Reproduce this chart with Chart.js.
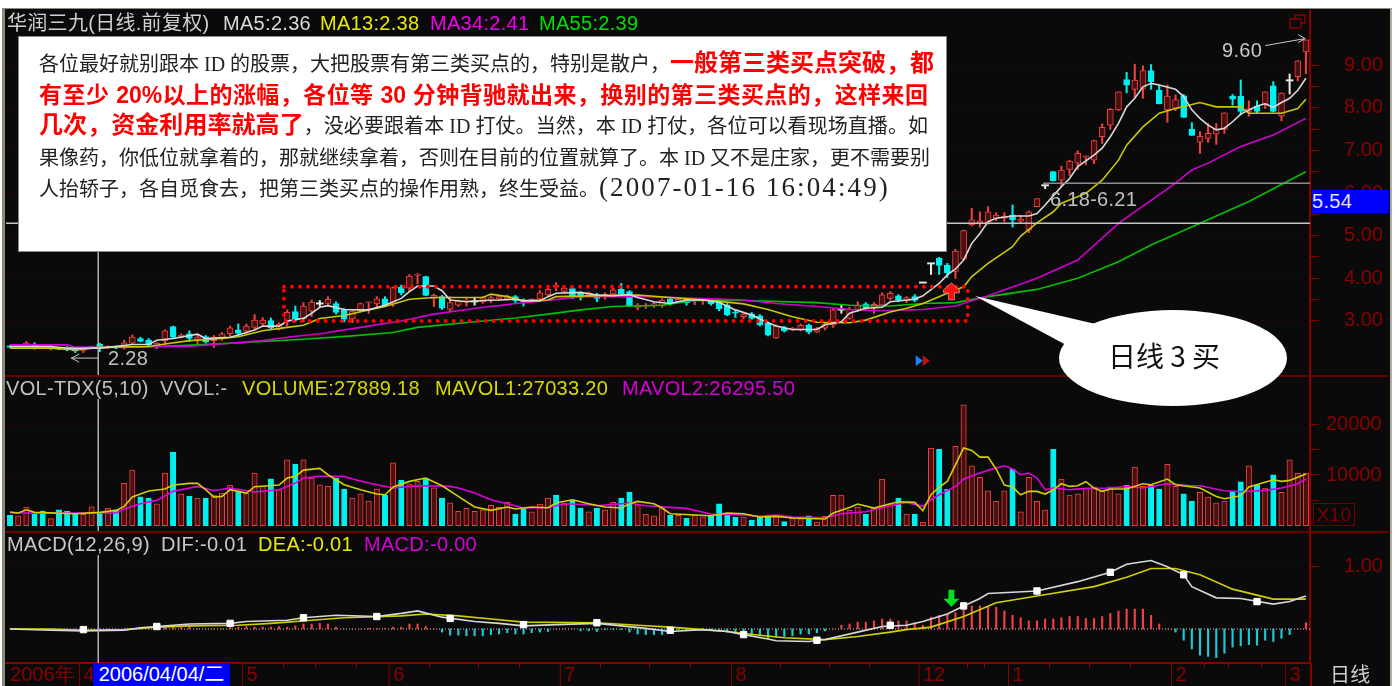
<!DOCTYPE html>
<html>
<head>
<meta charset="utf-8">
<script src="https://cdn.jsdelivr.net/npm/chart.js@4"></script>
<style>
html,body{margin:0;padding:0;background:#fff;overflow:hidden}
#frame{position:absolute;left:2px;top:8px;width:1385px;height:678px;background:#0a0a0a;border-left:3px solid #8c8a7c;border-right:2px solid #b0aea0;border-top:1px solid #8c8a7c;box-sizing:content-box}
canvas{position:absolute;left:5px}
.t{position:absolute;font:20px "Liberation Sans","Noto Sans CJK SC",sans-serif;letter-spacing:.3px;white-space:nowrap;line-height:22px}
.rule{position:absolute;background:#6a0000}
#note{position:absolute;left:19px;top:37px;width:927px;height:214px;background:#fff;box-shadow:0 0 0 1px #888}
#note div{position:absolute;left:20px;width:889px;font:20px/30px "Liberation Serif","Noto Sans CJK SC",sans-serif;color:#222;white-space:nowrap;text-align-last:justify}
#note b{font-family:"Liberation Sans","Noto Sans CJK SC",sans-serif;color:#f00;font-size:23px}
#note b.w{font-size:24px}
#note .big{font:27px "Liberation Serif",serif;letter-spacing:2.1px;color:#222}
svg{position:absolute;left:0;top:0}
.pane{position:absolute;border:2px solid #6a0000;box-sizing:border-box}
</style>
</head>
<body>
<div id="frame"></div>
<canvas id="kline" width="1384" height="366" style="top:10px"></canvas>
<canvas id="vol" width="1384" height="156" style="top:376px"></canvas>
<canvas id="macd" width="1384" height="154" style="top:532px"></canvas>

<div class="rule" style="left:5px;top:375px;width:1384px;height:2px"></div>
<div class="rule" style="left:5px;top:531px;width:1384px;height:2px"></div>
<div class="rule" style="left:1310px;top:663px;width:2px;height:23px;background:#8b0000"></div>
<div class="pane" style="left:1294px;top:14px;width:12px;height:10px"></div>
<div class="pane" style="left:1289px;top:18px;width:13px;height:11px;background:#0a0a0a"></div>

<span class="t" style="left:7px;top:12px;color:#d0d0d0">华润三九(日线.前复权)</span>
<span class="t" style="left:223px;top:12px;color:#d8d8d8">MA5:2.36</span>
<span class="t" style="left:320px;top:12px;color:#e8e800">MA13:2.38</span>
<span class="t" style="left:430px;top:12px;color:#f000f0">MA34:2.41</span>
<span class="t" style="left:539px;top:12px;color:#00e000">MA55:2.39</span>

<span class="t" style="left:6px;top:377px;color:#c0c0c0">VOL-TDX(5,10)</span>
<span class="t" style="left:160px;top:377px;color:#c0c0c0">VVOL:-</span>
<span class="t" style="left:242px;top:377px;color:#d8d800">VOLUME:27889.18</span>
<span class="t" style="left:435px;top:377px;color:#d8d800">MAVOL1:27033.20</span>
<span class="t" style="left:622px;top:377px;color:#d800d8">MAVOL2:26295.50</span>

<span class="t" style="left:7px;top:533px;color:#c8c8c8">MACD(12,26,9)</span>
<span class="t" style="left:161px;top:533px;color:#c8c8c8">DIF:-0.01</span>
<span class="t" style="left:258px;top:533px;color:#e8e800">DEA:-0.01</span>
<span class="t" style="left:364px;top:533px;color:#d800d8">MACD:-0.00</span>

<span class="t" style="left:108px;top:347px;color:#c0c0c0">2.28</span>
<span class="t" style="left:1222px;top:39px;color:#c8c8c8">9.60</span>
<span class="t" style="left:1050px;top:188px;color:#c0c0c0">6.18-6.21</span>

<span class="t" style="left:1312px;top:190px;width:77px;height:23px;background:#0000ff;color:#e0e0ff;line-height:22px">5.54</span>
<span class="t" style="left:1313px;top:503px;width:40px;height:21px;border:1px solid #6a0000;color:#7a0000;line-height:21px;text-align:center;font-size:19px">X10</span>
<span class="t" style="left:93px;top:663px;width:137px;height:23px;background:#0000ff;color:#fff;text-align:center;line-height:23px;letter-spacing:0">2006/04/04/二</span>
<span class="t" style="left:1330px;top:664px;color:#d0d0d0">日线</span>

<div id="note">
<div style="top:11px">各位最好就别跟本 ID 的股票，大把股票有第三类买点的，特别是散户，<b class="w">一般第三类买点突破，都</b></div>
<div style="top:43px"><b>有至少 20%以上的涨幅，各位等 30 分钟背驰就出来，换别的第三类买点的，这样来回</b></div>
<div style="top:73px"><b class="w">几次，资金利用率就高了</b>，没必要跟着本 ID 打仗。当然，本 ID 打仗，各位可以看现场直播。如</div>
<div style="top:106px">果像药，你低位就拿着的，那就继续拿着，否则在目前的位置就算了。本 ID 又不是庄家，更不需要别</div>
<div style="top:135px;text-align-last:left">人抬轿子，各自觅食去，把第三类买点的操作用熟，终生受益。<span class="big">(2007-01-16 16:04:49)</span></div>
</div>

<svg width="1395" height="686">
  <path d="M975 296 L1100 325 L1068 346 Z" fill="#fff"/>
  <ellipse cx="1173" cy="358" rx="114" ry="48" fill="#fff"/>
  <text x="1164" y="367" text-anchor="middle" font-family="Noto Sans CJK SC" font-size="28" fill="#111">日线 3 买</text>
</svg>

<script>
const N = 160;
const labels = Array.from({length: N}, (_, i) => i);

const openP = [
2.42,2.38,2.40,2.45,2.41,2.37,2.37,2.37,2.35,2.31,
2.37,2.46,2.37,2.40,2.36,2.48,2.59,2.55,2.42,2.54,
2.87,2.62,2.70,2.57,2.63,2.54,2.61,2.70,2.79,2.76,
2.85,2.93,3.01,2.81,2.99,3.22,3.05,3.23,3.41,3.41,
3.41,3.26,3.05,3.24,3.43,3.40,3.52,3.40,3.79,3.77,
4.07,4.04,3.53,3.57,3.27,3.37,3.45,3.46,3.45,3.48,
3.51,3.51,3.57,3.49,3.45,3.51,3.61,3.79,3.69,3.76,
3.65,3.61,3.62,3.57,3.63,3.74,3.69,3.32,3.34,3.37,
3.35,3.52,3.45,3.51,3.48,3.48,3.46,3.45,3.37,3.21,
3.10,3.16,3.12,2.95,2.60,2.84,2.80,2.79,2.90,2.74,
2.83,2.91,3.27,3.06,3.27,3.40,3.30,3.37,3.53,3.59,
3.48,3.57,3.90,4.35,4.47,4.31,4.16,4.45,5.25,5.29,
5.29,5.41,5.41,5.48,5.34,5.13,5.68,6.18,6.50,6.30,
6.55,6.70,6.84,6.77,7.32,7.59,7.95,8.66,8.43,8.45,
8.87,8.41,7.95,7.98,8.28,7.49,7.19,7.28,7.38,7.49,
8.27,8.27,7.91,8.04,8.09,8.51,7.80,8.64,8.73,9.31];
const closeP = [
2.38,2.41,2.48,2.38,2.37,2.40,2.34,2.34,2.30,2.34,
2.40,2.38,2.41,2.36,2.49,2.62,2.52,2.43,2.48,2.77,
2.62,2.67,2.59,2.62,2.51,2.62,2.70,2.84,2.71,2.88,
3.02,3.02,2.84,2.93,3.20,3.04,3.35,3.44,3.41,3.51,
3.20,3.04,3.23,3.41,3.45,3.52,3.37,3.78,3.66,4.05,
4.10,3.60,3.60,3.30,3.43,3.48,3.49,3.46,3.55,3.55,
3.57,3.59,3.48,3.45,3.51,3.66,3.74,3.84,3.77,3.57,
3.55,3.66,3.53,3.62,3.73,3.63,3.35,3.37,3.37,3.41,
3.49,3.43,3.51,3.43,3.51,3.49,3.40,3.29,3.14,3.18,
3.16,3.06,2.91,2.67,2.88,2.77,2.83,2.90,2.74,2.82,
2.92,3.26,3.27,3.27,3.37,3.30,3.39,3.61,3.65,3.49,
3.55,3.49,3.90,4.35,4.30,4.13,4.64,5.12,5.37,5.35,
5.56,5.48,5.46,5.37,5.39,5.56,5.87,6.18,6.29,6.54,
6.75,6.93,6.87,7.23,7.54,7.96,8.37,8.53,8.65,8.87,
8.61,8.09,8.27,8.19,7.77,7.35,7.33,7.40,7.49,7.88,
8.20,7.91,7.98,7.91,8.37,7.91,8.34,8.64,9.10,9.59];
const highP = [
2.43,2.42,2.52,2.49,2.42,2.41,2.38,2.40,2.37,2.35,
2.41,2.48,2.42,2.41,2.55,2.67,2.62,2.59,2.49,2.79,
2.88,2.70,2.77,2.67,2.66,2.66,2.73,2.88,2.93,2.93,
3.15,3.08,3.07,2.96,3.26,3.35,3.43,3.49,3.48,3.57,
3.45,3.29,3.27,3.42,3.45,3.57,3.57,3.80,3.84,4.09,
4.12,4.05,3.63,3.60,3.57,3.49,3.53,3.55,3.57,3.59,
3.60,3.61,3.60,3.52,3.52,3.71,3.79,3.90,3.82,3.79,
3.68,3.68,3.65,3.66,3.77,3.88,3.71,3.41,3.41,3.45,
3.52,3.55,3.52,3.52,3.51,3.49,3.49,3.48,3.41,3.26,
3.20,3.20,3.15,2.98,2.91,2.87,2.85,2.93,2.93,2.85,
2.95,3.29,3.37,3.32,3.45,3.43,3.43,3.66,3.69,3.62,
3.57,3.62,3.90,4.35,4.49,4.35,4.68,5.13,5.64,5.56,
5.68,5.54,5.54,5.72,5.48,5.58,5.87,6.18,6.51,6.63,
6.77,6.99,6.87,7.24,7.62,7.98,8.37,8.83,9.02,8.98,
9.01,8.53,8.53,8.30,8.31,7.65,7.44,7.63,7.63,7.88,
8.31,8.65,8.16,8.16,8.37,8.61,8.35,8.79,9.10,9.59];
const lowP = [
2.37,2.37,2.37,2.34,2.36,2.32,2.33,2.30,2.26,2.26,
2.36,2.28,2.36,2.35,2.34,2.45,2.51,2.40,2.35,2.44,
2.61,2.60,2.52,2.46,2.48,2.38,2.55,2.65,2.65,2.71,
2.81,2.90,2.81,2.79,2.88,2.98,2.98,3.10,3.34,3.34,
3.16,2.98,2.96,3.23,3.18,3.32,3.34,3.34,3.61,3.71,
3.87,3.59,3.34,3.27,3.24,3.34,3.35,3.37,3.41,3.43,
3.49,3.49,3.43,3.35,3.44,3.49,3.57,3.71,3.66,3.52,
3.49,3.59,3.45,3.51,3.61,3.60,3.34,3.26,3.29,3.32,
3.32,3.37,3.43,3.37,3.38,3.39,3.37,3.24,3.12,3.08,
3.05,3.04,2.88,2.65,2.59,2.74,2.77,2.77,2.70,2.73,
2.79,2.85,3.18,3.04,3.22,3.27,3.18,3.35,3.49,3.45,
3.43,3.45,3.90,4.09,4.09,4.02,4.00,4.43,5.23,5.20,
5.27,5.35,5.33,5.20,5.29,5.07,5.68,6.10,6.28,6.18,
6.41,6.55,6.66,6.69,7.16,7.49,7.93,8.35,8.22,8.22,
8.43,8.09,7.66,7.93,7.77,7.35,6.93,7.19,7.14,7.40,
8.06,7.83,7.80,7.88,7.98,7.90,7.69,8.32,8.63,8.80];

// moving averages: [bar, value]
const ma5Pts = [[0,2.40],[5,2.40],[7,2.36],[11,2.36],[12,2.38],[15,2.45],[17,2.45],[18,2.55],[20,2.59],[23,2.69],[24,2.59],[27,2.62],[28,2.67],[30,2.79],[31,2.88],[33,2.88],[34,3.00],[36,3.06],[37,3.18],[38,3.32],[39,3.36],[41,3.27],[43,3.26],[44,3.26],[46,3.37],[48,3.53],[49,3.69],[50,3.82],[52,3.82],[53,3.71],[54,3.49],[56,3.45],[58,3.48],[60,3.49],[62,3.51],[63,3.47],[65,3.47],[66,3.57],[67,3.65],[70,3.67],[72,3.61],[74,3.59],[76,3.62],[77,3.55],[79,3.45],[81,3.41],[83,3.49],[85,3.49],[87,3.44],[89,3.26],[91,3.14],[93,2.96],[94,2.88],[96,2.80],[99,2.80],[100,2.91],[102,2.98],[103,3.18],[105,3.30],[107,3.32],[108,3.45],[111,3.51],[112,3.59],[114,3.88],[115,4.08],[116,4.22],[117,4.43],[118,4.82],[119,5.05],[120,5.33],[121,5.41],[123,5.46],[125,5.46],[126,5.52],[127,5.72],[129,6.15],[130,6.34],[131,6.62],[133,6.89],[134,7.05],[135,7.32],[136,7.63],[137,8.02],[138,8.22],[139,8.49],[140,8.57],[141,8.53],[143,8.43],[144,8.26],[145,7.95],[146,7.75],[147,7.59],[148,7.48],[149,7.52],[150,7.67],[151,7.85],[153,8.04],[154,8.09],[155,8.01],[156,8.12],[157,8.22],[158,8.41],[159,8.69]];
const ma13Pts = [[0,2.36],[5,2.36],[8,2.32],[11,2.38],[17,2.40],[19,2.46],[22,2.54],[25,2.57],[28,2.63],[31,2.77],[34,2.85],[36,2.90],[38,3.06],[41,3.13],[44,3.26],[46,3.34],[49,3.51],[52,3.55],[58,3.55],[59,3.63],[61,3.57],[63,3.48],[66,3.49],[67,3.57],[74,3.60],[77,3.61],[81,3.55],[86,3.48],[90,3.40],[93,3.27],[96,3.10],[99,2.97],[103,2.96],[105,3.02],[108,3.21],[110,3.30],[112,3.41],[115,3.65],[117,3.80],[118,4.04],[120,4.35],[123,4.74],[124,4.99],[126,5.30],[128,5.56],[129,5.76],[132,5.99],[134,6.30],[136,6.77],[137,7.12],[139,7.55],[141,7.87],[143,7.98],[146,8.12],[148,8.02],[151,8.02],[152,7.87],[156,7.87],[158,7.98],[159,8.20]];
const ma34Pts = [[0,2.44],[7,2.44],[8,2.38],[11,2.38],[19,2.40],[22,2.40],[31,2.54],[34,2.62],[38,2.70],[43,2.85],[48,3.00],[52,3.16],[58,3.32],[60,3.36],[62,3.41],[66,3.48],[70,3.57],[78,3.57],[84,3.53],[90,3.49],[94,3.41],[99,3.34],[103,3.27],[107,3.24],[112,3.27],[116,3.35],[120,3.59],[126,4.00],[131,4.43],[136,5.29],[143,6.23],[145,6.54],[147,6.70],[151,7.09],[155,7.36],[159,7.75]];
const ma55Pts = [[0,2.36],[11,2.38],[18,2.40],[23,2.44],[31,2.52],[36,2.57],[42,2.65],[47,2.73],[50,2.85],[58,3.00],[62,3.07],[66,3.16],[70,3.26],[74,3.34],[80,3.37],[84,3.48],[90,3.48],[99,3.43],[103,3.37],[108,3.35],[112,3.41],[116,3.43],[120,3.57],[126,3.74],[131,4.00],[136,4.39],[140,4.78],[146,5.29],[152,5.80],[159,6.50]];

const volume = [
2040,1970,3680,2365,2890,1380,3150,2825,2365,2230,
3745,2630,3415,3150,8345,10970,5715,5450,4335,10380,
14520,6300,5780,5450,5450,6100,6440,8000,6900,6440,
10380,7750,9260,7100,13000,12150,13000,9400,8080,7750,
9400,7230,5450,6300,4860,7230,5980,12400,8935,8280,
8740,9400,7490,5450,4530,2825,3415,2825,3150,4000,
3610,4600,2300,3480,2760,4270,5450,6040,4470,4990,
3480,2760,3480,3150,4600,5450,6635,4140,2230,1970,
3480,2040,2040,1445,2040,1770,1970,4335,2500,1710,
1710,1120,1640,1970,1840,790,1445,1380,1970,720,
1840,5980,6040,3020,3680,2230,3480,9200,4335,5450,
2300,2300,720,15300,15045,7160,15640,23850,11825,9530,
6900,4800,6900,11100,2760,9530,4800,3090,15045,9200,
6040,6300,7420,7620,6770,7690,6300,7950,11560,7750,
7950,7230,12090,7750,6300,4860,6570,5650,4530,4860,
6900,8670,11825,7950,7420,10050,6570,13000,10380,10380];
const volDown = [0,3,4,6,7,8,11,13,16,17,20,22,24,28,32,35,40,41,46,48,51,53,62,63,67,69,70,72,75,76,81,83,86,87,88,89,91,92,93,95,98,105,109,111,114,115,123,128,137,140,141,144,145,150,151,153,155];
const mavol1Pts = [[0,2690],[1,2500],[2,3150],[3,2630],[8,2365],[11,2630],[13,3020],[14,3810],[15,5650],[17,6830],[19,7230],[20,8015],[22,8340],[23,8340],[24,7095],[25,5650],[26,5780],[27,7095],[29,6440],[30,7690],[33,8015],[34,9395],[35,9725],[36,10970],[38,11300],[39,10050],[41,8080],[43,7095],[45,6240],[46,6110],[47,7620],[49,8740],[51,9395],[53,7880],[55,5780],[57,3680],[59,3020],[61,3680],[62,3285],[64,3680],[66,3550],[67,4470],[69,5125],[71,4340],[73,3680],[75,3480],[76,4340],[77,4800],[79,4340],[80,3480],[81,2365],[86,1970],[88,2500],[90,2365],[92,1710],[94,1840],[96,1510],[100,1315],[101,2500],[103,3610],[104,4270],[106,3480],[108,4340],[109,4730],[111,4600],[112,2960],[113,6110],[114,7620],[115,8740],[117,15310],[118,14850],[119,13530],[120,13530],[121,11170],[122,8015],[123,7620],[124,6110],[125,6770],[126,6770],[127,6240],[128,7095],[129,8280],[130,7750],[131,7880],[132,8670],[133,7425],[134,6770],[135,7230],[137,7230],[139,8280],[140,8080],[142,9200],[143,8080],[146,7425],[148,5780],[149,5320],[151,5910],[152,7620],[155,9070],[156,8740],[157,8935],[159,10180]];
const mavol2Pts = [[0,2500],[13,2500],[14,3285],[16,4340],[18,4990],[20,6770],[22,7425],[23,7750],[25,6900],[27,7425],[30,6635],[33,7095],[35,8410],[36,9395],[38,9725],[41,9725],[42,9200],[44,8410],[47,7425],[49,7750],[51,7880],[54,7750],[55,7425],[57,6440],[59,5125],[61,4340],[63,3480],[66,3550],[68,4340],[71,4140],[72,3940],[76,4470],[78,3940],[81,3610],[83,3415],[86,2300],[90,2100],[92,1840],[94,2100],[96,1710],[100,1575],[102,2365],[105,2760],[108,3940],[110,4600],[112,3810],[113,5125],[114,6110],[116,7750],[117,9200],[119,10380],[120,10910],[122,11830],[123,11170],[124,10050],[125,10380],[126,9395],[127,7095],[128,7425],[130,7095],[132,7360],[135,7425],[137,7750],[139,7425],[142,8280],[145,7880],[146,7880],[149,6900],[151,6700],[154,6965],[156,7425],[158,8280],[159,9200]];

const difPts = [[0,0],[5,-0.02],[9,-0.03],[14,-0.02],[16,0.02],[18,0.04],[22,0.08],[27,0.09],[29,0.12],[34,0.14],[36,0.18],[40,0.22],[45,0.20],[48,0.25],[50,0.29],[53,0.19],[57,0.12],[60,0.09],[63,0.05],[67,0.07],[72,0.09],[75,0.05],[78,0.01],[81,-0.04],[85,-0.01],[88,-0.04],[90,-0.09],[93,-0.16],[94,-0.19],[98,-0.20],[100,-0.17],[104,-0.05],[107,0.04],[110,0.06],[112,0.12],[115,0.24],[117,0.37],[119,0.49],[120,0.57],[126,0.61],[131,0.76],[135,0.91],[137,1.04],[140,1.10],[142,1.00],[144,0.87],[145,0.68],[148,0.50],[151,0.49],[155,0.40],[157,0.44],[159,0.53]];
const deaPts = [[0,0],[5,0],[9,-0.02],[14,-0.01],[18,0.03],[22,0.05],[28,0.06],[32,0.09],[37,0.14],[41,0.18],[48,0.21],[51,0.24],[55,0.21],[59,0.16],[63,0.11],[72,0.10],[77,0.06],[81,0.03],[85,-0.01],[88,-0.04],[92,-0.10],[95,-0.14],[100,-0.17],[104,-0.12],[108,-0.05],[110,-0.01],[113,0.03],[117,0.20],[121,0.42],[126,0.53],[133,0.68],[137,0.83],[140,0.97],[143,0.97],[146,0.87],[150,0.64],[155,0.48],[159,0.48]];
const difMarkPts = [[9,-0.01],[18,0.04],[27,0.09],[36,0.18],[45,0.20],[54,0.17],[63,0.07],[72,0.10],[81,-0.02],[90,-0.09],[99,-0.18],[108,0.06],[117,0.37],[126,0.61],[135,0.91],[144,0.87],[153,0.44]];
const macdBar = [
0,0,0,0,0,0,0,0,0,0,
0,0,0,0,0,0,0,0,0,0.03,
0.04,0.04,0.04,0,0,0,0,0.03,0.03,0.04,
0.03,0.03,0.03,0.04,0.03,0.05,0.08,0.08,0.09,0.08,
0.03,0,0,0,0.01,0.01,0.01,0.03,0.03,0.08,
0.08,0.04,0,-0.05,-0.10,-0.10,-0.11,-0.11,-0.11,-0.09,
-0.08,-0.06,-0.08,-0.08,-0.06,-0.05,-0.04,0,0,0,
-0.03,-0.03,-0.04,-0.01,-0.01,-0.01,-0.05,-0.08,-0.09,-0.09,
-0.09,-0.04,-0.01,-0.01,-0.01,-0.01,-0.02,-0.03,-0.05,-0.06,
-0.07,-0.09,-0.11,-0.15,-0.13,-0.12,-0.11,-0.08,-0.08,-0.06,
-0.03,0,0.06,0.08,0.11,0.11,0.13,0.16,0.16,0.13,
0.13,0.10,0.06,0.19,0.22,0.24,0.26,0.32,0.37,0.37,
0.35,0.35,0.29,0.22,0.18,0.13,0.13,0.16,0.16,0.18,
0.20,0.20,0.17,0.17,0.20,0.25,0.29,0.32,0.32,0.32,
0.22,0.08,0,-0.05,-0.18,-0.32,-0.42,-0.44,-0.46,-0.39,
-0.29,-0.27,-0.25,-0.26,-0.18,-0.20,-0.15,-0.09,0,0.10];

const priceTicks = [3,3.5,4,4.5,5,5.5,6,6.5,7,7.5,8,8.5,9];
const volTicks = [5000,10000,15000,20000];
const macdTicks = [1];
const monthStart = [0,9,29,47,68,89,112,123,143,157];
const monthLabel = ['2006年','4','5','6','7','8','12','1','2','3'];
const weekTicks = [34,38,43,52,58,63,73,79,84,95,101,106,118,120,128,133,138,147,150,154];
const cursorBar = 11;
const supportLines = [[5.29,-1],[6.23,127]];   // price, first bar

const RED = '#ee4040', HOLLOW = '#4a1010', CYAN = '#00f0f0', AXIS = '#8b0000', DOT = '#7a0000';
const FONT = {family: '"Liberation Sans"', size: 20};

function sparse(pts){
  const a = new Array(N).fill(null);
  pts.forEach(p => { a[p[0]] = p[1]; });
  return a;
}
function maLine(pts, color, label){
  return {type:'line', label, data:sparse(pts), borderColor:color, borderWidth:1.6, pointRadius:0, tension:0, spanGaps:true, order:1};
}
function candleColor(i){
  if (closeP[i] > openP[i]) return RED;
  if (closeP[i] < openP[i]) return CYAN;
  return '#e8e8e8';
}
// the tick padding also pads the scale ends, take that back out so the plot fills its panel
function flush(a){
  a.paddingTop = a.paddingBottom = a.paddingLeft = a.paddingRight = 0;
  a._margins.top = a._margins.bottom = a._margins.left = a._margins.right = 0;
}
function yAxis(min, max, ticks, fmt, pad, strip){
  return {
    position:'right', min, max,
    afterBuildTicks: a => { a.ticks = ticks.map(v => ({value:v})); },
    afterFit: a => { flush(a); a.width = 79; a.height = a._length = a.chart.height - strip; },
    border:{color:AXIS, width:2, dash:[1,7]},
    grid:{
      tickLength:9, tickColor:AXIS,
      color: c => (c.tick && fmt(c.tick.value) !== '') ? DOT : 'transparent',
      lineWidth:1
    },
    ticks:{color:AXIS, font:FONT, padding:pad, autoSkip:false, callback:v => fmt(v)}
  };
}
function xAxisHidden(){
  return {offset:true, display:false, grid:{display:false}};
}
function baseOptions(scales){
  return {
    responsive:false, animation:false, devicePixelRatio:1,
    layout:{autoPadding:false, padding:{left:1, right:0, top:0, bottom:0}},
    plugins:{legend:{display:false}, tooltip:{enabled:false}},
    events:[],
    scales
  };
}
// vertical crosshair, starts under the title row of the panel
function crosshair(skip){
  return {id:'cursor', afterDatasetsDraw(chart){
    const c = chart.ctx, x = chart.scales.x.getPixelForValue(cursorBar) - 1.5, a = chart.chartArea;
    c.save(); c.strokeStyle = '#b0b0b0'; c.lineWidth = 1.5;
    c.beginPath(); c.moveTo(x, a.top + skip); c.lineTo(x, a.bottom); c.stroke(); c.restore();
  }};
}

const annotate = {id:'annotate', afterDatasetsDraw(chart){
  const c = chart.ctx, X = chart.scales.x, Y = chart.scales.y;
  c.save();
  // support lines
  c.lineWidth = 1.5;
  supportLines.forEach((s, k) => {
    const y = Y.getPixelForValue(s[0]);
    c.strokeStyle = k ? '#8c8c8c' : '#c4c4c4';
    c.beginPath(); c.moveTo(s[1] < 0 ? X.left : X.getPixelForValue(s[1]) - 2, y); c.lineTo(X.right, y); c.stroke();
  });
  // dotted box around the consolidation
  c.strokeStyle = '#ff0000'; c.lineWidth = 4; c.lineCap = 'round'; c.setLineDash([0,8]);
  const l = X.getPixelForValue(33.6), r = X.getPixelForValue(117.5), t = Y.getPixelForValue(3.80), b = Y.getPixelForValue(3.0);
  c.strokeRect(l, t, r - l, b - t);
  c.setLineDash([]); c.lineCap = 'butt';
  // up arrow, buy marker
  const ax = X.getPixelForValue(115.5), ay = Y.getPixelForValue(3.68);
  c.fillStyle = '#ff1010'; c.strokeStyle = '#b08080'; c.lineWidth = 1;
  c.beginPath();
  [[0,-9],[8,-2],[8,1],[3,1],[3,8],[-3,8],[-3,1],[-8,1],[-8,-2]].forEach((p, i) => {
    i ? c.lineTo(ax + p[0], ay + p[1]) : c.moveTo(ax + p[0], ay + p[1]);
  });
  c.closePath(); c.fill(); c.stroke();
  // the two small heads under the price
  const hx = X.getPixelForValue(111), hy = Y.getPixelForValue(2.07);
  c.fillStyle = '#2080ff';
  c.beginPath(); c.moveTo(hx + 1, hy - 5.5); c.lineTo(hx + 8, hy); c.lineTo(hx + 1, hy + 5.5); c.closePath(); c.fill();
  c.fillStyle = '#c01010';
  c.beginPath(); c.moveTo(hx + 8, hy - 5.5); c.lineTo(hx + 15, hy); c.lineTo(hx + 8, hy + 5.5); c.closePath(); c.fill();
  // low / high pointers
  c.strokeStyle = '#c8c8c8'; c.lineWidth = 1;
  const lowY = Y.getPixelForValue(2.13), lowX = X.getPixelForValue(8) ;
  c.beginPath(); c.moveTo(lowX + 23, lowY); c.lineTo(lowX - 4, lowY); c.moveTo(lowX + 4, lowY - 4); c.lineTo(lowX - 4, lowY); c.lineTo(lowX + 4, lowY + 4); c.stroke();
  const hiX = X.getPixelForValue(158.9), hiY = Y.getPixelForValue(9.62), fromX = X.getPixelForValue(154);
  c.beginPath(); c.moveTo(fromX, hiY + 7); c.lineTo(hiX, hiY); c.moveTo(hiX - 7, hiY - 4); c.lineTo(hiX, hiY); c.lineTo(hiX - 7, hiY + 4); c.stroke();
  c.restore();
}};

new Chart(document.getElementById('kline'), {
  data:{labels, datasets:[
    maLine(ma5Pts,'#d8d8d8','MA5'),
    maLine(ma13Pts,'#c8c800','MA13'),
    maLine(ma34Pts,'#d000d0','MA34'),
    maLine(ma55Pts,'#00c000','MA55'),
    {type:'bar', label:'doji', data:labels.map(i => openP[i] === closeP[i] ? [openP[i]-0.015, openP[i]+0.015] : null),
      backgroundColor:'#e8e8e8', barThickness:7, grouped:false, order:2},
    {type:'bar', label:'body', data:labels.map(i => openP[i] === closeP[i] ? null : [openP[i], closeP[i]]),
      backgroundColor:labels.map(i => closeP[i] > openP[i] ? HOLLOW : CYAN),
      borderColor:labels.map(candleColor), borderWidth:1, borderSkipped:false, barThickness:6, grouped:false, order:3},
    {type:'bar', label:'wick', data:labels.map(i => [lowP[i], highP[i]]),
      backgroundColor:labels.map(candleColor), barThickness:1.4, grouped:false, order:4}
  ]},
  options:baseOptions({
    x:xAxisHidden(),
    y:yAxis(1.71, 10.29, priceTicks, v => (v % 1 === 0 ? v.toFixed(2) : ''), 25, 0)
  }),
  plugins:[crosshair(27), annotate]
});

new Chart(document.getElementById('vol'), {
  data:{labels, datasets:[
    maLine(mavol1Pts,'#d0d000','MAVOL1'),
    maLine(mavol2Pts,'#e000e0','MAVOL2'),
    {type:'bar', label:'VOLUME', data:volume,
      backgroundColor:labels.map(i => volDown.includes(i) ? CYAN : HOLLOW),
      borderColor:labels.map(i => volDown.includes(i) ? CYAN : RED),
      borderWidth:1, borderSkipped:false, barThickness:5.4, grouped:false, order:3}
  ]},
  options:baseOptions({
    x:xAxisHidden(),
    y:yAxis(-1243, 29527, volTicks, v => (v % 10000 === 0 ? String(v) : ''), 7, 0)
  }),
  plugins:[crosshair(23)]
});

const zeroLine = {id:'zero', beforeDatasetsDraw(chart){
  const c = chart.ctx, a = chart.chartArea, y = chart.scales.y.getPixelForValue(0);
  c.save(); c.strokeStyle = '#d0d0d0'; c.lineWidth = 1; c.setLineDash([1,2]);
  c.beginPath(); c.moveTo(a.left + 4, y); c.lineTo(a.right, y); c.stroke(); c.restore();
}};
const macdMarks = {id:'marks', afterDraw(chart){
  const c = chart.ctx, X = chart.scales.x, Y = chart.scales.y;
  // green down arrow over the turn
  const gx = X.getPixelForValue(115.5), gy = Y.getPixelForValue(0.39);
  c.save(); c.fillStyle = '#00e020'; c.beginPath();
  [[-3,-15],[3,-15],[3,-6],[8,-6],[0,2],[-8,-6],[-3,-6]].forEach((p, i) => {
    i ? c.lineTo(gx + p[0], gy + p[1]) : c.moveTo(gx + p[0], gy + p[1]);
  });
  c.closePath(); c.fill();
  // month dividers on the date strip
  c.strokeStyle = AXIS; c.lineWidth = 1;
  monthStart.slice(1).forEach(i => {
    const x = X.getPixelForValue(i) - 4;
    c.beginPath(); c.moveTo(x, X.top); c.lineTo(x, X.bottom); c.stroke();
  });
  c.restore();
}};

new Chart(document.getElementById('macd'), {
  data:{labels, datasets:[
    {type:'line', label:'dif marks', data:sparse(difMarkPts), showLine:false, pointStyle:'rect', pointRadius:4.5,
      backgroundColor:'#fff', borderColor:'#fff', order:0},
    maLine(difPts,'#d8d8d8','DIF'),
    maLine(deaPts,'#d0d000','DEA'),
    {type:'bar', label:'MACD', data:macdBar,
      backgroundColor:macdBar.map(v => v >= 0 ? RED : '#20c8d0'), barThickness:1.5, grouped:false, order:3}
  ]},
  options:baseOptions({
    x:{
      offset:true,
      afterFit: a => { flush(a); a.height = 23; },
      border:{color:AXIS, width:2},
      grid:{offset:true, drawOnChartArea:false, tickLength:5,
        tickColor: c => (weekTicks.includes(c.index) ? AXIS : 'transparent')},
      ticks:{color:AXIS, font:FONT, autoSkip:false, maxRotation:0, minRotation:0, align:'start', padding:-5,
        callback:(v, i) => { const k = monthStart.indexOf(i); return k < 0 ? '' : monthLabel[k]; }}
    },
    y:yAxis(-0.546, 1.557, macdTicks, v => (v === 1 ? v.toFixed(2) : ''), 25, 23)
  }),
  plugins:[crosshair(23), zeroLine, macdMarks]
});
</script>
</body>
</html>
